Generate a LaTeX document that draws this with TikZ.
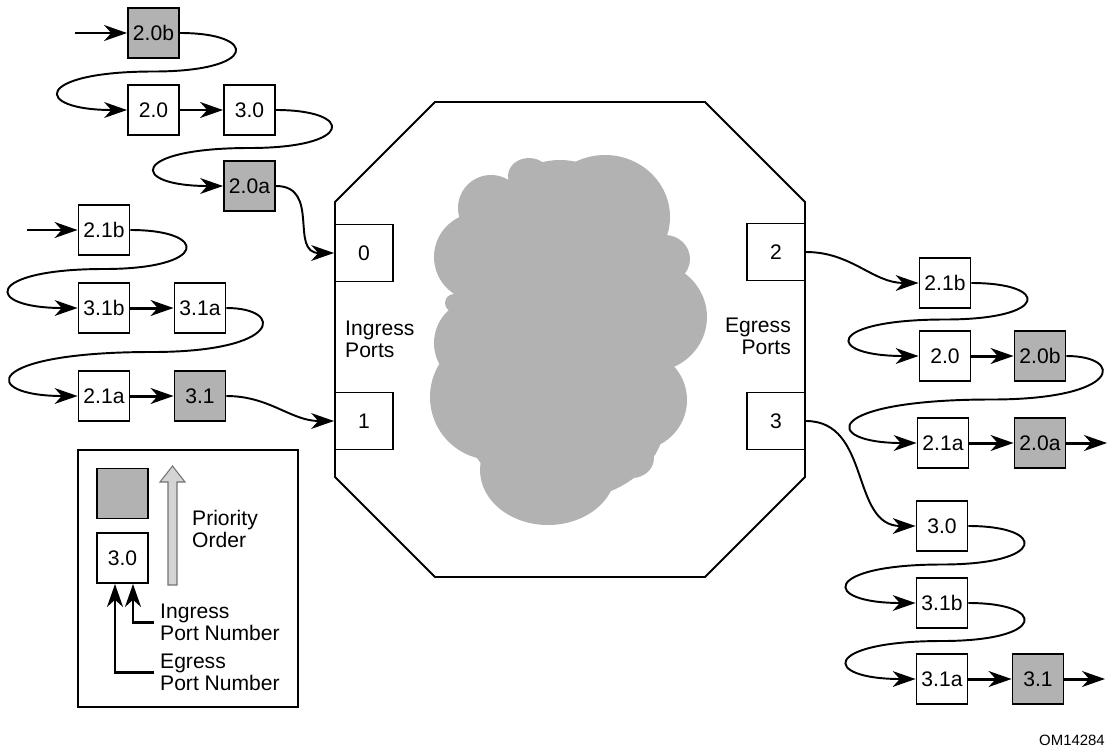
\documentclass[tikz,border=0pt]{standalone}
\usepackage{fontspec}
\setmainfont{Liberation Sans}
\usepackage{xcolor}
\colorlet{colCell}{black!30}
\colorlet{colPrio}{black!17}
\colorlet{colPrioLine}{black!55}
\usepackage{tikz}
\usetikzlibrary{arrows.meta, positioning, calc}

\begin{document}
\begin{tikzpicture}[x=0.02cm, y=-0.02cm,
		cell/.style={draw, line width=1.1pt, minimum width=1.02cm, minimum height=1cm, inner sep=0pt, font=\fontsize{12}{12.5}\selectfont},
		hot/.style={cell, fill=colCell},
		port/.style={cell, minimum width=1.16cm, minimum height=1.14cm},
		link/.style={line width=1.7pt, -{Stealth[length=13pt, width=9pt, inset=4pt]}},
		wire/.style={line width=1.1pt, -{Stealth[length=13pt, width=9pt, inset=4pt]}},
		lbl/.style={align=left, anchor=west, font=\fontsize{12}{12.5}\selectfont}]
	\useasboundingbox (0,0) rectangle (1109,751);

	% switch fabric
	\draw[line width=1.1pt] (435,102) -- (705,102) -- (805,202) -- (805,477) -- (705,577)
		-- (435,577) -- (335,477) -- (335,202) -- cycle;
	\foreach \cx/\cy/\rx/\ry in {491/208/33/33, 529/176/21/18, 605/217/65/62, 478/257/44/44,
			665/259/25/24, 454/303/9/9, 650/317/57/55, 478/343/44/44, 493/397/63/63,
			637/400/50/50, 632/458/22/20, 548/470/68/55, 560/310/105/150, 560/205/45/40,
			565/420/100/80}
		\fill[colCell] (\cx,\cy) ellipse [x radius=\rx, y radius=\ry];
	\node[port] (p0) at (364,253) {0};
	\node[port] (p1) at (364,421) {1};
	\node[port] (p2) at (776,252) {2};
	\node[port] (p3) at (776,421) {3};
	\node[lbl] (ingTxt) at (339,339) {Ingress\\Ports};
	\node[lbl, align=right, anchor=east] (egTxt) at (797,336) {Egress\\Ports};

	% ingress queues
	\node[hot] (q20b) at (153.5,33) {2.0b};
	\node[cell] (q20) at (153.5,110) {2.0};
	\node[cell] (q30) at (249.5,110) {3.0};
	\node[hot] (q20a) at (249.5,186) {2.0a};
	\node[cell] (q21b) at (104,230) {2.1b};
	\node[cell] (q31b) at (104,308) {3.1b};
	\node[cell] (q31a) at (200,308) {3.1a};
	\node[cell] (q21a) at (104,396) {2.1a};
	\node[hot] (q31) at (200,396) {3.1};
	\coordinate (in0) at (75,33);
	\coordinate (in1) at (27,230);

	\draw[link] (in0) -- (q20b);
	\draw[wire] (q20b.east) .. controls +(79,0) and +(105,0) .. ($(q20b.east)!0.5!(q20.west)$)
		.. controls +(-120,0) and +(-95,0) .. (q20.west);
	\draw[link] (q20) -- (q30);
	\draw[wire] (q30.east) .. controls +(79,0) and +(105,0) .. ($(q30.east)!0.5!(q20a.west)$)
		.. controls +(-120,0) and +(-95,0) .. (q20a.west);
	\draw[wire] (q20a.east) to[out=0, in=180, looseness=1.3] (p0.west);

	\draw[link] (in1) -- (q21b);
	\draw[wire] (q21b.east) .. controls +(79,0) and +(105,0) .. ($(q21b.east)!0.5!(q31b.west)$)
		.. controls +(-120,0) and +(-95,0) .. (q31b.west);
	\draw[link] (q31b) -- (q31a);
	\draw[wire] (q31a.east) .. controls +(58,0) and +(131,0) .. ($(q31a.east)!0.5!(q21a.west)$)
		.. controls +(-171,0) and +(-98,0) .. (q21a.west);
	\draw[link] (q21a) -- (q31);
	\draw[wire] (q31.east) to[out=0, in=180] (p1.west);

	% egress queues
	\node[cell] (e21b) at (945,283) {2.1b};
	\node[cell] (e20) at (945,356) {2.0};
	\node[hot] (e20b) at (1040,356) {2.0b};
	\node[cell] (e21a) at (943,443) {2.1a};
	\node[hot] (e20a) at (1040,443) {2.0a};
	\node[cell] (e30) at (942,526) {3.0};
	\node[cell] (e31b) at (942,603) {3.1b};
	\node[cell] (e31a) at (942,679) {3.1a};
	\node[hot] (e31) at (1038,679) {3.1};
	\coordinate (out2) at (1107,443);
	\coordinate (out3) at (1105,679);

	\draw[wire] (p2.east) to[out=0, in=180] (e21b.west);
	\draw[wire] (e21b.east) .. controls +(79,0) and +(105,0) .. ($(e21b.east)!0.5!(e20.west)$)
		.. controls +(-120,0) and +(-95,0) .. (e20.west);
	\draw[link] (e20) -- (e20b);
	\draw[wire] (e20b.east) .. controls +(58,0) and +(131,0) .. ($(e20b.east)!0.5!(e21a.west)$)
		.. controls +(-170,0) and +(-96,0) .. (e21a.west);
	\draw[link] (e21a) -- (e20a);
	\draw[link] (e20a) -- (out2);

	\draw[wire] (p3.east) to[out=0, in=180, looseness=1.1] (e30.west);
	\draw[wire] (e30.east) .. controls +(79,0) and +(105,0) .. ($(e30.east)!0.5!(e31b.west)$)
		.. controls +(-120,0) and +(-95,0) .. (e31b.west);
	\draw[wire] (e31b.east) .. controls +(79,0) and +(105,0) .. ($(e31b.east)!0.5!(e31a.west)$)
		.. controls +(-120,0) and +(-95,0) .. (e31a.west);
	\draw[link] (e31a) -- (e31);
	\draw[link] (e31) -- (out3);

	% key
	\draw[line width=1.1pt] (78,450) rectangle (298,707);
	\node[hot] (keyHot) at (122.5,493.5) {};
	\node[cell] (key30) at (122.5,558) {3.0};
	\draw[colPrioLine, fill=colPrio, line width=0.6pt] (168,585) -- (168,482) -- (160,482) -- (172.5,466)
		-- (185,482) -- (177,482) -- (177,585) -- cycle;
	\node[lbl] (keyPrio) at (186,529) {Priority\\Order};
	\node[lbl] (keyIng) at (154,622) {Ingress\\Port Number};
	\node[lbl] (keyEg) at (154,672) {Egress\\Port Number};
	\draw[link] (keyIng.west) -| ([xshift=0.21cm]key30.south);
	\draw[link] (keyEg.west) -| ([xshift=-0.15cm]key30.south);

	\node[font=\fontsize{8.5}{10}\selectfont] (figId) at (1072,740) {OM14284};
\end{tikzpicture}
\end{document}
